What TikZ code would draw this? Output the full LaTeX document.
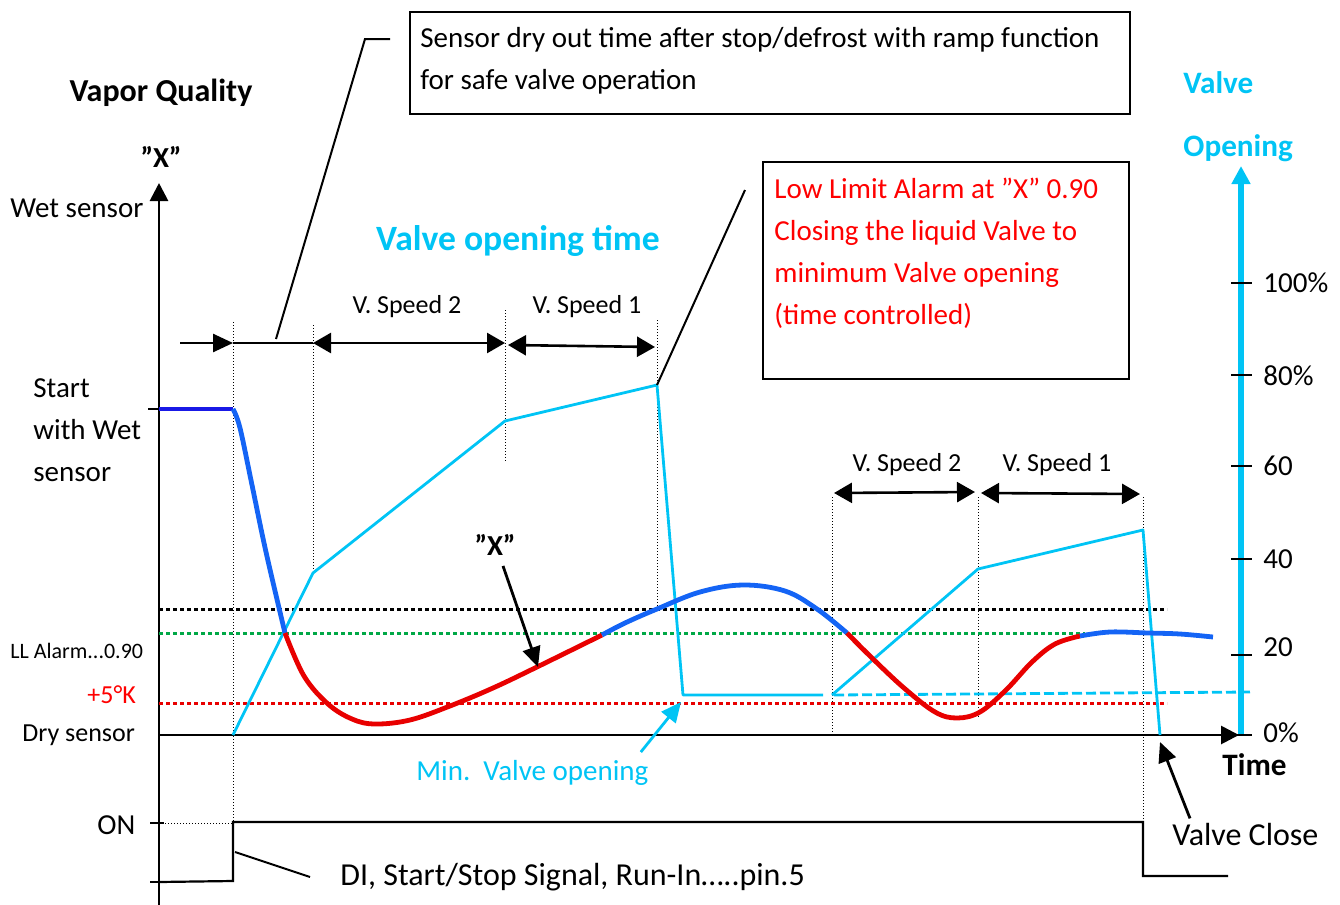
\documentclass[tikz,border=0pt]{standalone}
\usepackage{fontspec}
\setmainfont{Carlito}
\usepackage{tikz}
\usetikzlibrary{arrows.meta}
\usetikzlibrary{calc}
\usetikzlibrary{positioning}
\definecolor{valvecyan}{RGB}{0,196,245}
\definecolor{vqblue}{RGB}{20,100,245}
\definecolor{vqdark}{RGB}{25,25,230}
\definecolor{vqred}{RGB}{232,0,0}
\definecolor{llgreen}{RGB}{0,168,70}
\tikzstyle{vaxis} = [line width=1.4pt,-{Triangle[length=9pt,width=9pt]}]
\tikzstyle{tickmark} = [line width=0.8pt]
\tikzstyle{guide} = [line width=0.5pt,dash pattern=on 0.6pt off 0.9pt]
\tikzstyle{limitline} = [line width=1.5pt,dash pattern=on 1.8pt off 1.7pt]
\tikzstyle{vq} = [line width=2.4pt,smooth,tension=0.6]
\tikzstyle{valve} = [valvecyan,line width=1.4pt,line join=round]
\tikzstyle{speed} = [line width=1.3pt,{Triangle[length=9pt,width=10pt]}-{Triangle[length=9pt,width=10pt]}]
\tikzstyle{pointer} = [line width=1.4pt,-{Triangle[length=10pt,width=9pt]}]
\tikzstyle{leader} = [line width=1pt]
\tikzstyle{signal} = [line width=1.1pt]
\tikzstyle{note} = [draw,line width=1.2pt,anchor=north west,inner sep=0pt]
\tikzstyle{lbl} = [inner sep=0pt,font=\fontsize{14.5}{21}\selectfont]
\tikzstyle{biglbl} = [inner sep=0pt,font=\fontsize{16}{21}\selectfont]
\tikzstyle{boldlbl} = [inner sep=0pt,font=\fontsize{14.5}{21}\selectfont\bfseries]
\tikzstyle{headlbl} = [inner sep=0pt,font=\fontsize{15.6}{21}\selectfont\bfseries]
\tikzstyle{speedlbl} = [inner sep=0pt,font=\fontsize{13}{15}\selectfont]

\begin{document}
\begin{tikzpicture}[x=0.5pt,y=-0.5pt]
	\useasboundingbox (0,0) rectangle (1340,905);

	% axes
	\draw[line width=3.2pt,valvecyan,-{Triangle[length=9pt,width=9pt]}] (1241,735) -- (1241,166);
	\draw[vaxis] (159,905) -- (159,183);
	\draw[vaxis] (159,735) -- (1239,735);
	\foreach \y in {283,375,466,559,655,735}
		\draw[tickmark] (1231,\y) -- (1252,\y);
	\draw[tickmark] (148,409) -- (159,409);
	\draw[tickmark] (150,823) -- (164,823);
	\draw[tickmark] (150,882) -- (164,882);

	% left axis labels
	\node[headlbl,font=\fontsize{16}{21}\selectfont\bfseries] (vqtitle) at (161,93) {Vapor Quality};
	\node[boldlbl] (xaxis) at (161,157) {”X”};
	\node[lbl,anchor=west] (wet) at (10,208) {Wet sensor};
	\node[lbl,anchor=west,align=left] (start) at (33,430) {Start\\with Wet\\sensor};
	\node[inner sep=0pt,anchor=west,font=\fontsize{11}{12}\selectfont] (llalarm) at (10,651) {LL Alarm...0.90};
	\node[inner sep=0pt,anchor=west,font=\fontsize{13}{15}\selectfont,red] (plusfive) at (87,695) {+5°K};
	\node[inner sep=0pt,anchor=west,font=\fontsize{13}{15}\selectfont] (dry) at (22,735) {Dry sensor};
	\node[lbl,anchor=west] (on) at (97,825) {ON};

	% right axis labels
	\node[headlbl,anchor=west,valvecyan] (valve) at (1183,83) {Valve};
	\node[headlbl,anchor=west,valvecyan] (opening) at (1183,148) {Opening};
	\foreach \y/\t in {283/100\%,376/80\%,466/60,559/40,647/20,733/0\%}
		\node[lbl,anchor=west] (pct\y) at (1263,\y) {\t};
	\node[headlbl,anchor=west] (time) at (1222,765) {Time};

	% time marks
	\foreach \x/\ya/\yb in {233/322/882,313/325/573,505/310/462,657/320/609,832/497/735,978/497/718,1143/497/822}
		\draw[guide] (\x,\ya) -- (\x,\yb);
	\draw[guide] (159,823) -- (233,823);

	% limits
	\draw[limitline] (159,609) -- (1167,609);
	\draw[limitline,llgreen] (159,633) -- (1085,633);
	\draw[limitline,vqred] (159,703) -- (1167,703);

	% valve opening
	\draw[valve] (233,735) -- (313,573) -- (505,421) -- (657,385) -- (683,695) -- (823,695);
	\draw[valve,dash pattern=on 5pt off 2pt] (834,695) -- (1252,692);
	\draw[valve] (832,695) -- (978,569) -- (1143,530) -- (1160,735);

	% vapor quality
	\draw[vq,vqdark] (159,409) -- (233,409);
	\draw[vq,vqblue] plot coordinates {(233,409) (240,428) (252,485) (266,552) (285,633)};
	\draw[vq,vqred] plot coordinates {(285,633) (304,676) (328,704) (352,719) (375,724) (410,720) (450,706) (493,688) (537,667) (602,635)};
	\draw[vq,vqblue] plot coordinates {(602,635) (625,623) (657,609) (700,592) (743,585) (785,591) (817,609) (847,633)};
	\draw[vq,vqred] plot coordinates {(847,633) (872,658) (904,688) (935,712) (957,718) (980,712) (1006,690) (1032,662) (1055,644) (1080,636)};
	\draw[vq,vqblue] plot coordinates {(1080,636) (1110,632) (1148,633) (1180,634) (1213,637)};

	% start/stop signal
	\draw[signal] (159,882) -- (233,881) -- (233,822) -- (1143,822) -- (1143,876) -- (1228,876);
	\node[biglbl,anchor=west] (di) at (340,877) {DI, Start/Stop Signal, Run-In…..pin.5};
	\coordinate (distep) at (235,852);
	\draw[leader] (distep) -- ($(di.west)+(-30,0)$);

	% speed spans
	\node[headlbl,font=\fontsize{17.8}{21}\selectfont\bfseries,valvecyan] (vtime) at (518,241) {Valve opening time};
	\node[speedlbl] (spa2) at (407,307) {V. Speed 2};
	\node[speedlbl] (spa1) at (587,307) {V. Speed 1};
	\node[speedlbl] (spb2) at (907,465) {V. Speed 2};
	\node[speedlbl] (spb1) at (1057,465) {V. Speed 1};
	\coordinate (drystart) at (180,343);
	\coordinate (dryend) at (233,343);
	\coordinate (rampa) at (313,343);
	\coordinate (rampb) at (505,343);
	\draw[pointer,line width=1.3pt] (drystart) -- (dryend);
	\draw[leader] (dryend) -- (rampa);
	\draw[speed] (rampa) -- (rampb);
	\draw[speed] (508,345) -- (655,347);
	\draw[speed] (834,493) -- (975,492);
	\draw[speed] (981,493) -- (1140,494);

	% notes
	\node[note,minimum width=360pt,minimum height=51pt] (dryout) at (409,11) {};
	\node[lbl,anchor=west,align=left] (dryouttext) at (420,61) {Sensor dry out time after stop/defrost with ramp function\\for safe valve operation};
	\coordinate (dryfoot) at (276,339);
	\coordinate (drybend) at (365,39);
	\draw[leader] (dryfoot) -- (drybend) -- ($(dryout.north west)+(-19,28)$);

	\node[note,minimum width=183pt,minimum height=108.5pt] (alarm) at (762,161) {};
	\node[lbl,anchor=north west,align=left,red] (alarmtext) at (774,178) {Low Limit Alarm at ”X” 0.90\\Closing the liquid Valve to\\minimum Valve opening\\(time controlled)};
	\coordinate (valvepeak) at (657,385);
	\draw[leader] (valvepeak) -- ($(alarm.north west)+(-17,29)$);

	% pointers
	\node[boldlbl] (xcurve) at (495,545) {”X”};
	\coordinate (xtip) at (538,667);
	\draw[pointer] ($(xcurve.south)+(8,10)$) -- (xtip);

	\node[lbl,anchor=west,valvecyan] (minvalve) at (416,773) {Min.\ \ Valve opening};
	\coordinate (mintip) at (681,702);
	\draw[pointer,valvecyan] ($(minvalve.north east)+(-8,-8)$) -- (mintip);

	\node[biglbl,anchor=west] (vclose) at (1172,834) {Valve Close};
	\coordinate (closetip) at (1160,742);
	\draw[pointer] ($(vclose.north west)+(18,-4)$) -- (closetip);

\end{tikzpicture}
\end{document}
